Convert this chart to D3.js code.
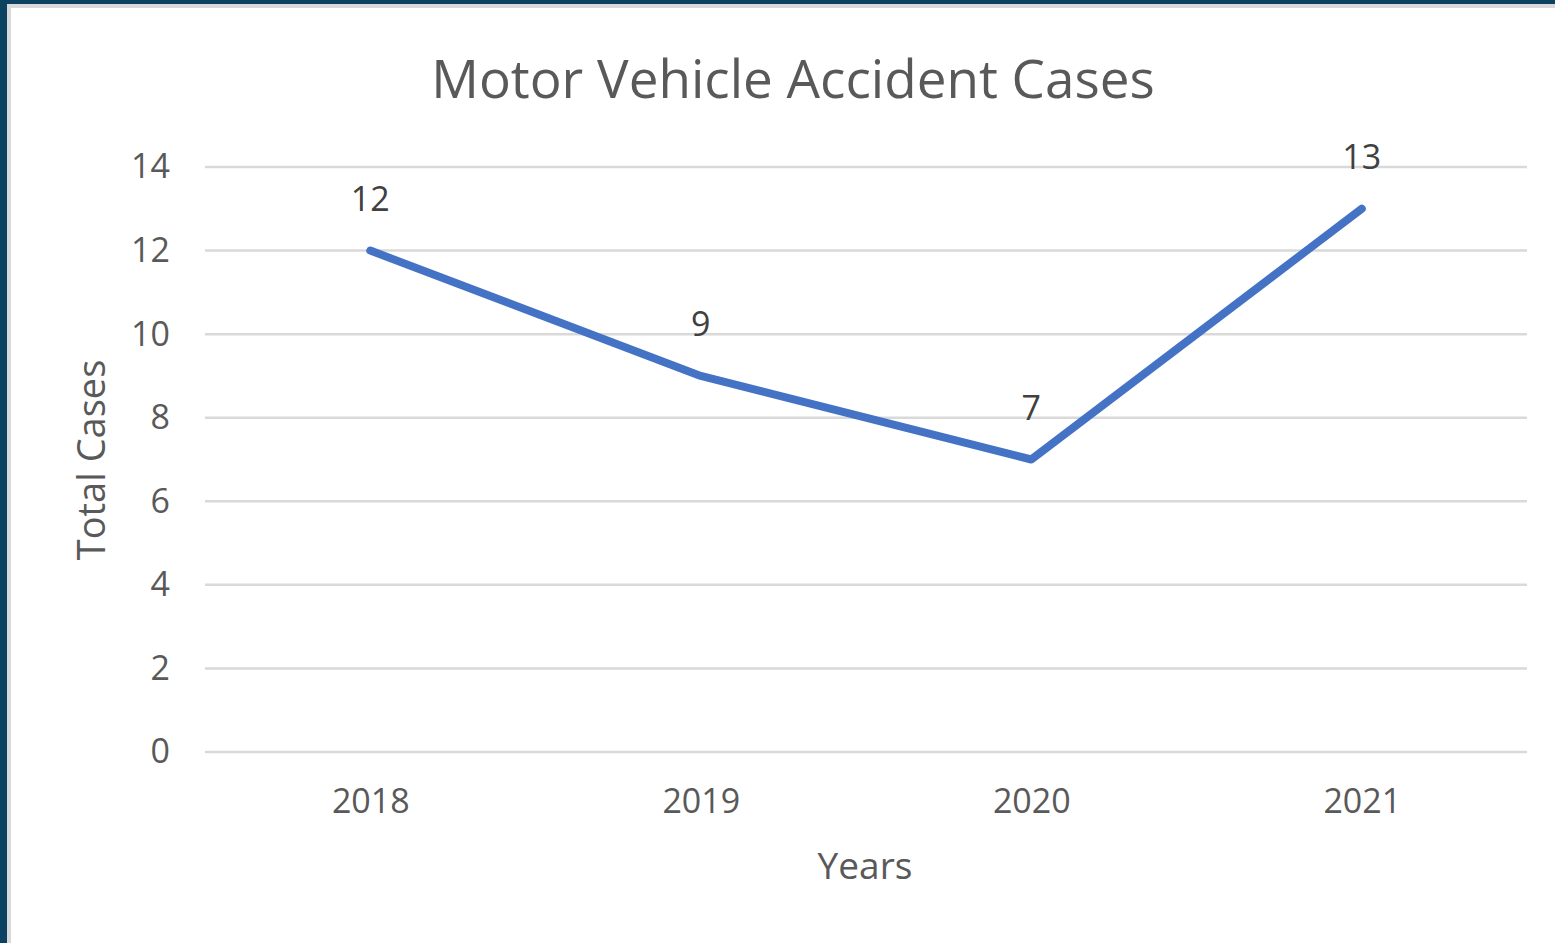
<!DOCTYPE html>
<html>
<head>
<meta charset="utf-8">
<script src="https://cdn.jsdelivr.net/npm/d3@7"></script>
<style>
  body { margin: 0; background: #fff; }
  svg { display: block; }
</style>
</head>
<body>
<div id="chart"></div>
<script>
// chart data
const years = ["2018", "2019", "2020", "2021"];
const cases = [12, 9, 7, 13];
const yTicks = [0, 2, 4, 6, 8, 10, 12, 14];

const width = 1555, height = 943;
const margin = { top: 167, right: 28, bottom: 191, left: 205 };
const font = "'Open Sans', 'Liberation Sans', sans-serif";

const svg = d3.select("#chart")
  .append("svg")
  .attr("width", width)
  .attr("height", height);

// frame: dark edge on top/left, thin grey inner edge
svg.append("rect").attr("x", 0).attr("y", 0).attr("width", width).attr("height", height).attr("fill", "#0b4262");
svg.append("rect").attr("x", 7).attr("y", 4).attr("width", width - 7).attr("height", height - 4).attr("fill", "#d9d9d9");
svg.append("rect").attr("x", 11).attr("y", 8).attr("width", width - 11).attr("height", height - 8).attr("fill", "#ffffff");

const xScale = d3.scalePoint()
  .domain(years)
  .range([margin.left, width - margin.right])
  .padding(0.5);

const yScale = d3.scaleLinear()
  .domain([0, 14])
  .range([height - margin.bottom, margin.top]);

// gridlines
svg.append("g")
  .selectAll("line")
  .data(yTicks)
  .enter()
  .append("line")
    .attr("x1", margin.left)
    .attr("x2", width - margin.right)
    .attr("y1", d => yScale(d))
    .attr("y2", d => yScale(d))
    .attr("stroke", "#d9d9d9")
    .attr("stroke-width", 2.5);

// y axis labels
const yAxis = svg.append("g")
  .attr("transform", `translate(${margin.left - 35}, 0)`)
  .call(d3.axisLeft(yScale).tickValues(yTicks).tickSize(0).tickPadding(0));
yAxis.select(".domain").remove();
yAxis.selectAll("text")
  .attr("font-family", font)
  .attr("font-size", "34px")
  .attr("fill", "#595959");

// x axis labels
const xAxis = svg.append("g")
  .attr("transform", `translate(0, ${height - margin.bottom + 37})`)
  .call(d3.axisBottom(xScale).tickSize(0).tickPadding(0));
xAxis.select(".domain").remove();
xAxis.selectAll("text")
  .attr("font-family", font)
  .attr("font-size", "34px")
  .attr("fill", "#595959");

// line
const line = d3.line()
  .x((d, i) => xScale(years[i]))
  .y(d => yScale(d));

svg.append("path")
  .datum(cases)
  .attr("d", line)
  .attr("fill", "none")
  .attr("stroke", "#4472c4")
  .attr("stroke-width", 8)
  .attr("stroke-linejoin", "round")
  .attr("stroke-linecap", "round");

// data labels
svg.append("g")
  .selectAll("text")
  .data(cases)
  .enter()
  .append("text")
    .attr("x", (d, i) => xScale(years[i]))
    .attr("y", d => yScale(d) - 40)
    .attr("text-anchor", "middle")
    .attr("font-family", font)
    .attr("font-size", "34px")
    .attr("fill", "#404040")
    .text(d => d);

// title
svg.append("text")
  .attr("x", 793)
  .attr("y", 98)
  .attr("text-anchor", "middle")
  .attr("font-family", font)
  .attr("font-size", "53px")
  .attr("fill", "#595959")
  .text("Motor Vehicle Accident Cases");

// axis titles
svg.append("text")
  .attr("x", 865)
  .attr("y", 879)
  .attr("text-anchor", "middle")
  .attr("font-family", font)
  .attr("font-size", "37px")
  .attr("fill", "#595959")
  .text("Years");

svg.append("text")
  .attr("transform", "translate(105, 460) rotate(-90)")
  .attr("text-anchor", "middle")
  .attr("font-family", font)
  .attr("font-size", "38px")
  .attr("fill", "#595959")
  .text("Total Cases");
</script>
</body>
</html>
